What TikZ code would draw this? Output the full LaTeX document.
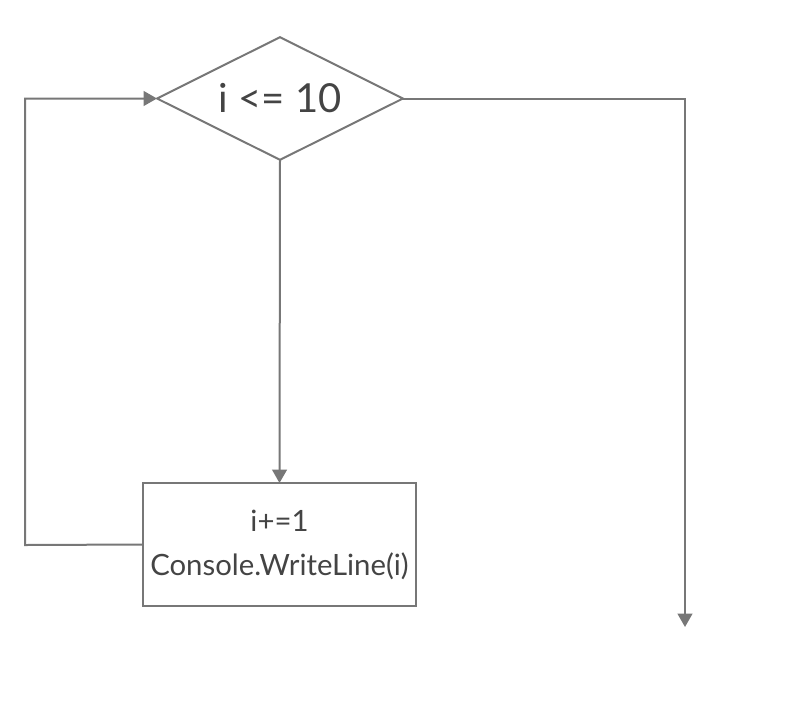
\documentclass[tikz,border=0pt]{standalone}
\usepackage{fontspec}
\setmainfont{Lato}
\usepackage{xcolor}
\usetikzlibrary{shapes,arrows.meta,positioning,calc}
\definecolor{linegray}{HTML}{777777}
\definecolor{textgray}{HTML}{444444}
\tikzset{
  flow/.style={draw=linegray, line width=1.5pt},
  decision/.style={diamond, aspect=2, draw=linegray, line width=1.5pt, inner sep=0pt, outer sep=0pt,
    minimum width=184.5pt, minimum height=92pt, text=textgray, font=\fontsize{30}{36}\selectfont},
  process/.style={rectangle, draw=linegray, line width=1.5pt, outer sep=0pt, align=center,
    minimum width=204.75pt, minimum height=92.25pt, text=textgray, font=\fontsize{22}{33}\selectfont},
  tip/.style={-{Triangle[length=10pt, width=11pt]}}
}
\begin{document}
\begin{tikzpicture}[x=0.75pt, y=-0.75pt]
        \useasboundingbox (0,0) rectangle (800,726);

        \node[decision] (cond) at (280,98.5) {i <= 10};
        \node[process] (body) at (279.5,544.5) {i+=1\\Console.WriteLine(i)};

        \coordinate (back) at (25,545);
        \coordinate (exit) at (685,627);

        \draw[flow, tip] (cond.south) -- (body.north); % loop body
        \draw[flow, tip] (body.west) -- (back) |- (cond.west); % back to test
        \draw[flow, tip] (cond.east) -| (exit); % leave loop
    \end{tikzpicture}
\end{document}
